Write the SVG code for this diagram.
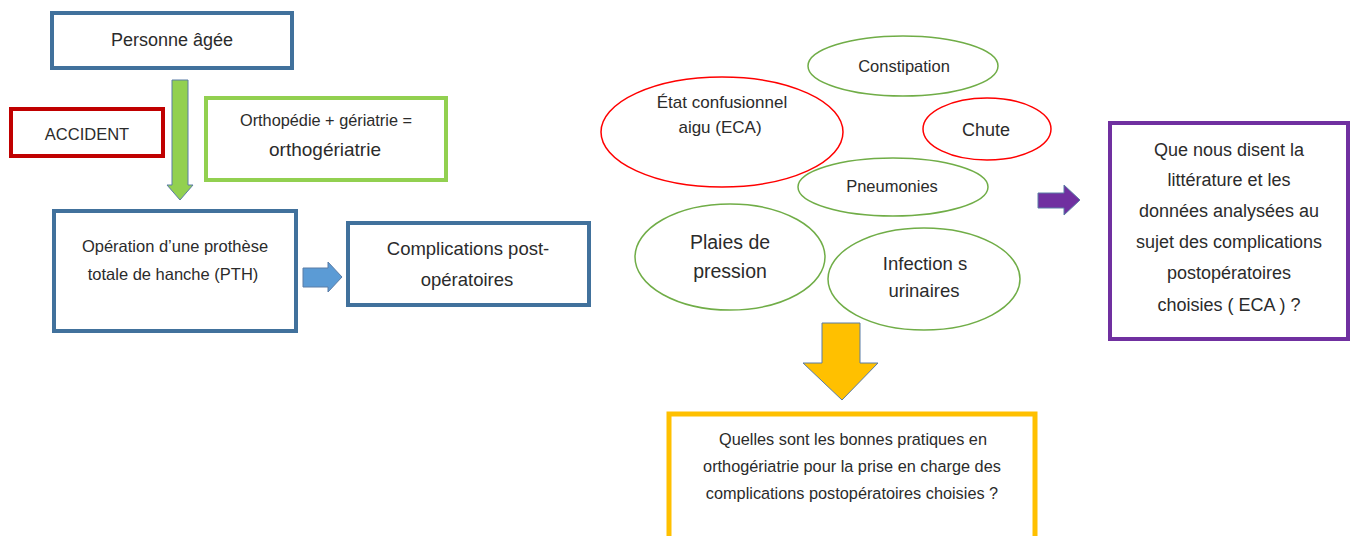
<svg xmlns="http://www.w3.org/2000/svg" width="1352" height="536" viewBox="0 0 1352 536">
<style>
text{font-family:"Liberation Sans",Arial,sans-serif;fill:#2b2b2b;text-anchor:middle}
.box{fill:#fff}
.blue{stroke:#41719C;stroke-width:4}
.red{stroke:#C00000;stroke-width:4}
.green{stroke:#92D050;stroke-width:4}
.purple{stroke:#7030A0;stroke-width:4}
.yellow{stroke:#FFC000;stroke-width:5}
.ell{fill:#fff;stroke-width:1.5}
.er{stroke:#FF0000}
.eg{stroke:#70AD47}
.arr{stroke:#5A7CA6;stroke-width:1}
</style>
<rect width="1352" height="536" fill="#fff"/>
<g id="connectors">
<polygon class="arr" fill="#92D050" points="172,80 188,80 188,185 193,185 180,200 167,185 172,185"/>
<polygon class="arr" fill="#5B9BD5" points="303,268 328,268 328,262 342,277 328,292 328,287 303,287"/>
<polygon class="arr" fill="#7030A0" points="1038,193 1064,193 1064,185 1080,200 1064,215 1064,208 1038,208"/>
<polygon class="arr" fill="#FFC000" points="822,323 860,323 860,363 878,363 842,400 803,363 822,363"/>
</g>
<g id="personne"><rect class="box blue" x="52" y="13" width="240" height="55"/><text x="172" y="46" font-size="18">Personne âgée</text></g>
<g id="accident"><rect class="box red" x="11" y="109" width="152" height="47"/><text x="87" y="140" font-size="16.5">ACCIDENT</text></g>
<g id="ortho"><rect class="box green" x="206" y="98" width="240" height="82"/><text x="326" y="126" font-size="16.3">Orthopédie + gériatrie =</text><text x="325" y="156" font-size="19">orthogériatrie</text></g>
<g id="operation"><rect class="box blue" x="54" y="211" width="242" height="120"/><text x="175" y="252" font-size="16.5">Opération d’une prothèse</text><text x="173" y="280" font-size="16.5">totale de hanche (PTH)</text></g>
<g id="complications"><rect class="box blue" x="348" y="223" width="241" height="82"/><text x="468" y="255" font-size="18.5">Complications post-</text><text x="467" y="286" font-size="18.5">opératoires</text></g>
<g id="eca"><ellipse class="ell er" cx="722" cy="132" rx="121" ry="55"/><text x="722" y="108" font-size="17">État confusionnel</text><text x="720" y="133" font-size="17">aigu (ECA)</text></g>
<g id="constipation"><ellipse class="ell eg" cx="903" cy="66" rx="95" ry="30"/><text x="904" y="72" font-size="16.5">Constipation</text></g>
<g id="chute"><ellipse class="ell er" cx="987" cy="129" rx="64" ry="31"/><text x="986" y="136" font-size="18">Chute</text></g>
<g id="pneumonies"><ellipse class="ell eg" cx="893" cy="187" rx="95" ry="29"/><text x="892" y="192" font-size="16.5">Pneumonies</text></g>
<g id="plaies"><ellipse class="ell eg" cx="730" cy="257" rx="95" ry="53"/><text x="730" y="249" font-size="19.5">Plaies de</text><text x="730" y="278" font-size="19.5">pression</text></g>
<g id="infections"><ellipse class="ell eg" cx="924" cy="279" rx="96" ry="51"/><text x="925" y="270" font-size="18.5">Infection s</text><text x="924" y="297" font-size="18.5">urinaires</text></g>
<g id="question1"><rect class="box purple" x="1110" y="123" width="238" height="216"/>
<text x="1229" y="156" font-size="18">Que nous disent la</text>
<text x="1229" y="186" font-size="18">littérature et les</text>
<text x="1229" y="217" font-size="18">données analysées au</text>
<text x="1229" y="248" font-size="18">sujet des complications</text>
<text x="1229" y="279" font-size="18">postopératoires</text>
<text x="1229" y="311" font-size="18">choisies ( ECA ) ?</text></g>
<g id="question2"><rect class="box yellow" x="669" y="414" width="366" height="140"/>
<text x="853" y="445" font-size="16.3">Quelles sont les bonnes pratiques en</text>
<text x="852" y="472" font-size="16.3">orthogériatrie pour la prise en charge des</text>
<text x="852" y="499" font-size="16.3">complications  postopératoires choisies ?</text></g>
</svg>
